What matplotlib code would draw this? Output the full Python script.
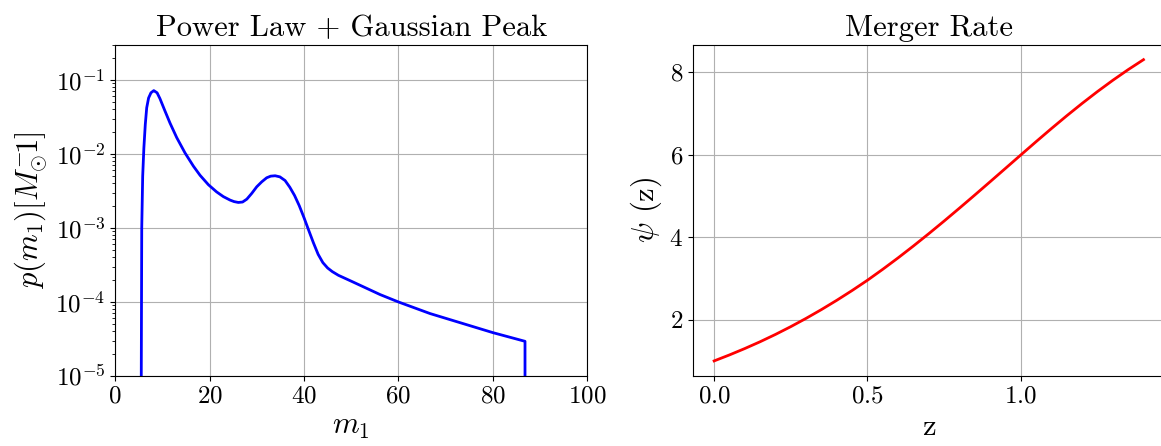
import matplotlib
matplotlib.use("Agg")
import matplotlib.pyplot as plt

plt.rcParams["font.family"] = "serif"
plt.rcParams["font.serif"] = ["cmr10"]
plt.rcParams["mathtext.fontset"] = "cm"
plt.rcParams["axes.formatter.use_mathtext"] = True
plt.rcParams["axes.unicode_minus"] = False

# primary mass distribution (power law + gaussian peak)
m1 = [5.5, 5.55, 5.65, 5.85, 6.1, 6.4, 6.7, 7.1, 7.6, 8.2, 8.9, 9.5, 10.5,
      11.65, 13.06, 14.82, 16.6, 18.0, 19.76, 21.5, 22.93, 24.35, 25.2, 26.1,
      27.0, 27.9, 28.94, 30.0, 31.06, 32.1, 32.96, 33.9, 34.9, 36.0, 37.0,
      38.0, 39.0, 40.0, 41.0, 42.0, 43.0, 44.0, 45.0, 46.0, 47.3, 50.0, 52.6,
      56.1, 60.0, 66.7, 73.7, 80.0, 86.8, 86.8]
p_m1 = [1e-8, 1e-5, 1.0e-3, 5.0e-3, 1.2e-2, 2.5e-2, 4.2e-2, 5.7e-2, 6.7e-2,
        7.17e-2, 6.7e-2, 5.6e-2, 3.9e-2, 2.6e-2, 1.66e-2, 1.03e-2, 6.82e-3,
        5.14e-3, 3.84e-3, 3.07e-3, 2.65e-3, 2.38e-3, 2.27e-3, 2.21e-3,
        2.24e-3, 2.45e-3, 2.93e-3, 3.6e-3, 4.2e-3, 4.76e-3, 5.01e-3, 5.07e-3,
        4.9e-3, 4.37e-3, 3.55e-3, 2.75e-3, 2.0e-3, 1.38e-3, 9.3e-4, 6.3e-4,
        4.4e-4, 3.4e-4, 2.88e-4, 2.57e-4, 2.29e-4, 1.91e-4, 1.60e-4, 1.26e-4,
        1.0e-4, 6.97e-5, 5.1e-5, 3.85e-5, 2.94e-5, 1e-8]

# merger rate vs redshift
z = [0.0, 0.05, 0.1, 0.15, 0.2, 0.25, 0.3, 0.35, 0.4, 0.45, 0.5, 0.55, 0.6,
     0.65, 0.7, 0.75, 0.8, 0.85, 0.9, 0.95, 1.0, 1.05, 1.1, 1.15, 1.2, 1.25,
     1.3, 1.35, 1.4]
psi = [1.000, 1.145, 1.300, 1.465, 1.642, 1.831, 2.032, 2.245, 2.470, 2.707,
       2.956, 3.222, 3.499, 3.787, 4.085, 4.391, 4.704, 5.022, 5.344, 5.668,
       5.993, 6.316, 6.634, 6.944, 7.243, 7.530, 7.803, 8.061, 8.303]

fig = plt.figure(figsize=(11.61, 4.46), dpi=100)
ax1 = fig.add_axes([0.0991, 0.157, 0.4068, 0.743])
ax2 = fig.add_axes([0.5966, 0.157, 0.4068, 0.743])

ax1.plot(m1, p_m1, color="blue", lw=2)
ax1.set_yscale("log")
ax1.set_xlim(0, 100)
ax1.set_ylim(1e-5, 0.3)
ax1.set_xticks([0, 20, 40, 60, 80, 100])
ax1.set_xlabel(r"$m_1$", fontsize=22)
ax1.set_ylabel(r"$p(m_1) [M_{\odot}^{-}\!1]$", fontsize=22)
ax1.set_title("Power Law + Gaussian Peak", fontsize=22)
ax1.grid(True)

ax2.plot(z, psi, color="red", lw=2)
ax2.set_xticks([0.0, 0.5, 1.0])
ax2.set_yticks([2, 4, 6, 8])
ax2.set_xlabel("z", fontsize=22)
ax2.set_ylabel(r"$\psi$ (z)", fontsize=22)
ax2.set_title("Merger Rate", fontsize=22)
ax2.grid(True)

for ax in (ax1, ax2):
    ax.tick_params(labelsize=18)

fig.savefig("out.png", dpi=100)
